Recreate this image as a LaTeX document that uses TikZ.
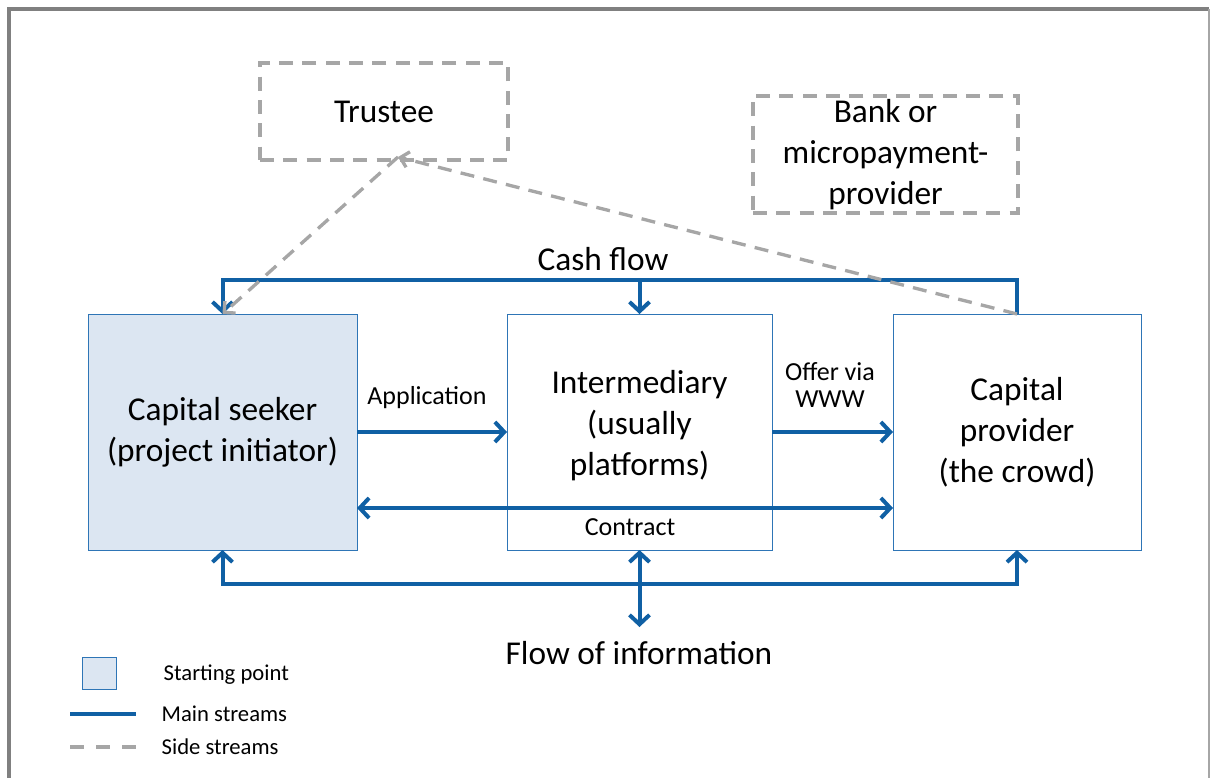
\documentclass[tikz,border=0pt]{standalone}
\usepackage{fontspec}
\setmainfont{Carlito}
\usetikzlibrary{arrows.meta}
\definecolor{flowblue}{RGB}{16,96,164}
\definecolor{boxblue}{RGB}{46,117,182}
\definecolor{startfill}{RGB}{220,230,242}
\definecolor{sidegray}{RGB}{166,166,166}
\definecolor{framegray}{RGB}{128,128,128}
\begin{document}
\begin{tikzpicture}[x=0.75pt, y=-0.75pt,
  party/.style={draw=boxblue, line width=0.6pt, inner sep=0pt, outer sep=0pt, align=center, font=\fontsize{25}{30.75}\selectfont},
  sidebox/.style={draw=sidegray, line width=2.5pt, dash pattern=on 10.5pt off 7pt, inner sep=0pt, align=center, font=\fontsize{25}{30.75}\selectfont},
  mainflow/.style={flowblue, line width=3pt},
  mainhead/.style={-{Straight Barb[length=7pt, width=15pt]}},
  bothhead/.style={{Straight Barb[length=7pt, width=15pt]}-{Straight Barb[length=7pt, width=15pt]}},
  sideflow/.style={sidegray, line width=2.5pt, dash pattern=on 10.5pt off 7pt, -{Straight Barb[length=6pt, width=12pt]}},
  biglabel/.style={font=\fontsize{25}{30}\selectfont},
  smalllabel/.style={font=\fontsize{19.5}{20.5}\selectfont, align=center},
  legendlabel/.style={font=\fontsize{17}{20}\selectfont, anchor=west}]
\useasboundingbox (0,0) rectangle (1211,778);
% frame
\draw[framegray, line width=3pt] (9,778) -- (9,9) -- (1209,9);
\draw[framegray!70, line width=1.2pt] (1209,9) -- (1209,778);

% side parties
\node[sidebox, minimum width=186pt, minimum height=72.75pt] (trustee) at (384,111.5) {Trustee};
\node[sidebox, minimum width=198.75pt, minimum height=87.75pt] (bank) at (885.5,154.5) {Bank or\\micropayment-\\provider};

% main parties
\node[party, fill=startfill, minimum width=201.75pt, minimum height=177pt] (seeker) at (222.5,432) {Capital seeker\\(project initiator)};
\node[party, minimum width=198.75pt, minimum height=177pt, text depth=13pt] (inter) at (639.5,432) {Intermediary\\(usually\\platforms)};
\node[party, minimum width=186pt, minimum height=177pt] (provider) at (1017,432) {Capital\\provider\\(the crowd)};

% cash flow
\coordinate (cashtop) at (639.5,280);
\draw[mainflow, mainhead] (provider.north) |- (cashtop) -| (seeker.north);
\draw[mainflow, mainhead] (cashtop) -- (inter.north);
\node[biglabel] (cashlabel) at (603,259) {Cash flow};

% application, offer, contract
\draw[mainflow, mainhead] (seeker.east) -- (inter.west);
\node[smalllabel] (applabel) at (427,398) {Application};
\draw[mainflow, mainhead] (inter.east) -- (provider.west);
\node[smalllabel] (offerlabel) at (830,385) {Offer via\\WWW};
\coordinate (contractline) at (639.5,508);
\draw[mainflow, bothhead] (seeker.east |- contractline) -- (provider.west |- contractline);
\node[smalllabel] (contractlabel) at (630,527) {Contract};

% flow of information
\coordinate (infoline) at (639.5,584);
\coordinate (infoend) at (639.5,627);
\draw[mainflow, mainhead] (infoline) -| (seeker.south);
\draw[mainflow, mainhead] (infoline) -| (provider.south);
\draw[mainflow, bothhead] (inter.south) -- (infoend);
\node[biglabel] (infolabel) at (639,653) {Flow of information};

% side streams
\coordinate (trustfoot) at (398,157);
\draw[sideflow] (trustfoot) -- (seeker.north);
\draw[sideflow] (provider.north) -- (trustfoot);

% legend
\node[draw=boxblue, line width=0.6pt, fill=startfill, minimum width=25.5pt, minimum height=24pt, inner sep=0pt] (legstart) at (99,673) {};
\node[legendlabel] (legstarttext) at (159,675) {Starting point};
\coordinate (legmainA) at (70,714);
\coordinate (legmainB) at (136,714);
\draw[mainflow] (legmainA) -- (legmainB);
\node[legendlabel] (legmaintext) at (157,714) {Main streams};
\coordinate (legsideA) at (70,747);
\coordinate (legsideB) at (136,747);
\draw[sidegray, line width=2.5pt, dash pattern=on 10.5pt off 9pt] (legsideA) -- (legsideB);
\node[legendlabel] (legsidetext) at (157,747) {Side streams};
\end{tikzpicture}
\end{document}
